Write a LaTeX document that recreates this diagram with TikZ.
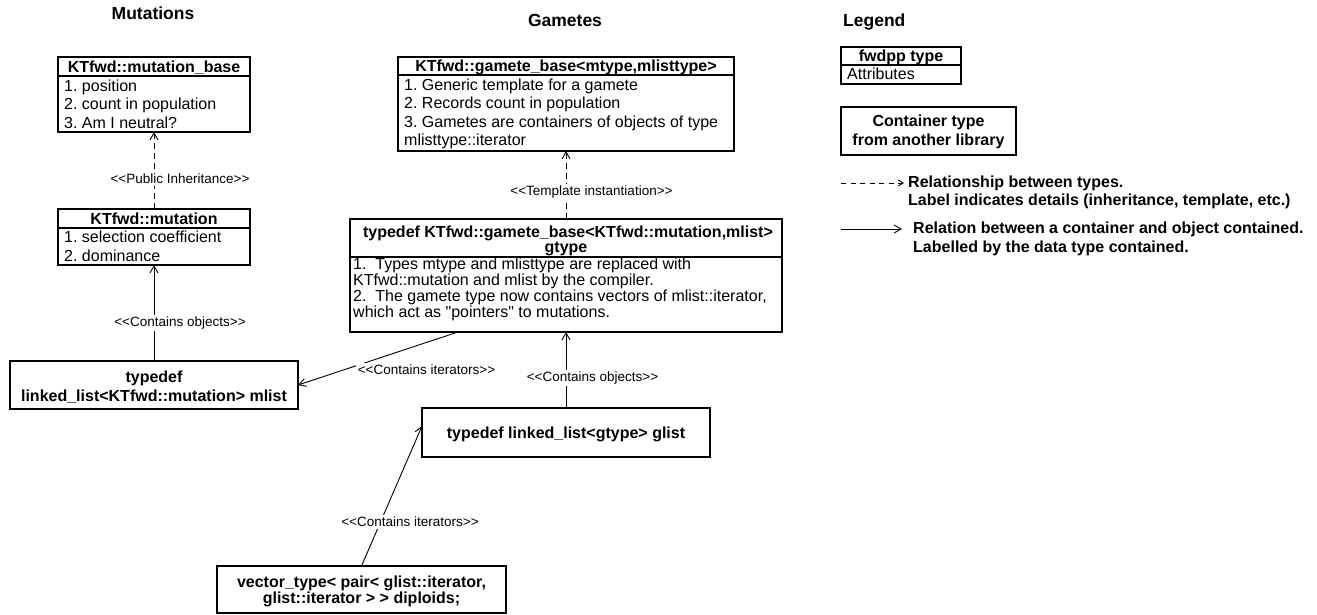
\documentclass[tikz,border=0pt]{standalone}
\usepackage{fontspec}
\setmainfont{Liberation Sans}[Ligatures=TeXOff]
\usetikzlibrary{arrows.meta,calc}
\frenchspacing
\begin{document}
\begin{tikzpicture}[x=1pt,y=-1pt,
  box/.style={draw, line width=1.1pt, inner sep=0pt, outer sep=0pt, anchor=north west},
  hdr/.style={font=\bfseries\fontsize{16}{19}\selectfont, anchor=base, inner sep=0pt},
  attr/.style={font=\fontsize{16}{19}\selectfont, anchor=base west, inner sep=0pt},
  ttl/.style={font=\bfseries\fontsize{17.5}{21}\selectfont, inner sep=0pt},
  lbl/.style={font=\fontsize{13.5}{16}\selectfont, fill=white, inner sep=2pt},
  sepline/.style={line width=1.1pt},
  dep/.style={line width=0.9pt, dash pattern=on 6pt off 4pt, -{Straight Barb[length=7pt,width=8pt]}},
  cont/.style={line width=0.9pt, -{Straight Barb[length=7pt,width=8pt]}},
  ]
\useasboundingbox (0,0) rectangle (1317,614);

% titles
\node[ttl, anchor=base] (t1) at (153,19) {Mutations};
\node[ttl, anchor=base] (t2) at (565,26) {Gametes};
\node[ttl, anchor=base west] (t3) at (843,26) {Legend};

% mutation_base
\node[box, minimum width=192pt, minimum height=75pt] (mb) at (58,57) {};
\draw[sepline] (58,76) -- (250,76);
\node[hdr] (mbh) at (154,72) {KTfwd::mutation\_base};
\node[attr] (mb1) at (64,91) {1. position};
\node[attr] (mb2) at (64,109.5) {2. count in population};
\node[attr] (mb3) at (64,128) {3. Am I neutral?};

% mutation
\node[box, minimum width=192pt, minimum height=56pt] (mu) at (58,209) {};
\draw[sepline] (58,228) -- (250,228);
\node[hdr] (muh) at (154,224) {KTfwd::mutation};
\node[attr] (mu1) at (64,242.5) {1. selection coefficient};
\node[attr] (mu2) at (64,261) {2. dominance};

% mlist
\node[box, minimum width=288pt, minimum height=48pt] (ml) at (10,361) {};
\node[hdr] (ml1) at (154,382) {typedef};
\node[hdr] (ml2) at (154,401) {linked\_list<KTfwd::mutation> mlist};

% gamete_base
\node[box, minimum width=336pt, minimum height=94pt] (gb) at (398,57) {};
\draw[sepline] (398,75) -- (734,75);
\node[hdr] (gbh) at (566,71.5) {KTfwd::gamete\_base<mtype,mlisttype>};
\node[attr] (gb1) at (404,90.5) {1. Generic template for a gamete};
\node[attr] (gb2) at (404,108.5) {2. Records count in population};
\node[attr] (gb3) at (404,127) {3. Gametes are containers of objects of type};
\node[attr] (gb4) at (404,145) {mlisttype::iterator};

% gtype
\node[box, minimum width=432pt, minimum height=113pt] (gt) at (350,219) {};
\draw[sepline] (350,257) -- (782,257);
\node[hdr] (gth1) at (568,237) {typedef KTfwd::gamete\_base<KTfwd::mutation,mlist>};
\node[hdr] (gth2) at (566,252) {gtype};
\node[attr] (gt1) at (353,269.5) {1.\ \ Types mtype and mlisttype are replaced with};
\node[attr] (gt2) at (353,285.5) {KTfwd::mutation and mlist by the compiler.};
\node[attr] (gt3) at (353,301.5) {2.\ \ The gamete type now contains vectors of mlist::iterator,};
\node[attr] (gt4) at (353,317.5) {which act as "pointers" to mutations.};

% glist
\node[box, minimum width=288pt, minimum height=49pt] (gl) at (422,408) {};
\node[hdr] (glt) at (566,438) {typedef linked\_list<gtype> glist};

% diploids
\node[box, minimum width=289pt, minimum height=47pt] (dp) at (217,566) {};
\node[hdr] (dp1) at (361.5,587) {vector\_type< pair< glist::iterator,};
\node[hdr] (dp2) at (361.5,603) {glist::iterator > > diploids;};

% connectors
\draw[dep] (mu.north) -- (mb.south);
\node[lbl] (l1) at (180,179) {<<Public Inheritance>>};
\draw[cont] (ml.north) -- (mu.south);
\node[lbl] (l2) at (180,323) {<<Contains objects>>};
\draw[dep] (gt.north) -- (gb.south);
\node[lbl] (l3) at (591.5,192) {<<Template instantiation>>};
\draw[cont] ($(gt.south west)!0.25!(gt.south east)$) -- (ml.east);
\node[lbl] (l4) at (426.5,370) {<<Contains iterators>>};
\draw[cont] (gl.north) -- (gt.south);
\node[lbl] (l5) at (592.5,378) {<<Contains objects>>};
\draw[cont] (dp.north) -- ($(gl.west)+(0,-6.5)$);
\node[lbl] (l6) at (410,522) {<<Contains iterators>>};

% legend
\node[box, minimum width=120pt, minimum height=37pt] (fw) at (841,47) {};
\draw[sepline] (841,65) -- (961,65);
\node[hdr] (fwh) at (901,61) {fwdpp type};
\node[attr] (fwa) at (847,79.5) {Attributes};

\node[box, minimum width=175pt, minimum height=48pt] (ct) at (841,107) {};
\node[hdr] (ct1) at (928.5,126) {Container type};
\node[hdr] (ct2) at (928.5,145) {from another library};

\coordinate (la) at (841,183);
\coordinate (lb) at (904,183);
\draw[line width=0.9pt, dash pattern=on 5pt off 4.5pt, -{Straight Barb[length=5pt,width=6pt]}] (la) -- (lb);
\node[hdr, anchor=base west] (lt1) at (908,187) {Relationship between types.};
\node[hdr, anchor=base west] (lt2) at (908,205) {Label indicates details (inheritance, template, etc.)};

\coordinate (lc) at (841,229);
\coordinate (ld) at (902,229);
\draw[cont] (lc) -- (ld);
\node[hdr, anchor=base west] (lt3) at (913,233.5) {Relation between a container and object contained.};
\node[hdr, anchor=base west] (lt4) at (913,252) {Labelled by the data type contained.};
\end{tikzpicture}
\end{document}
